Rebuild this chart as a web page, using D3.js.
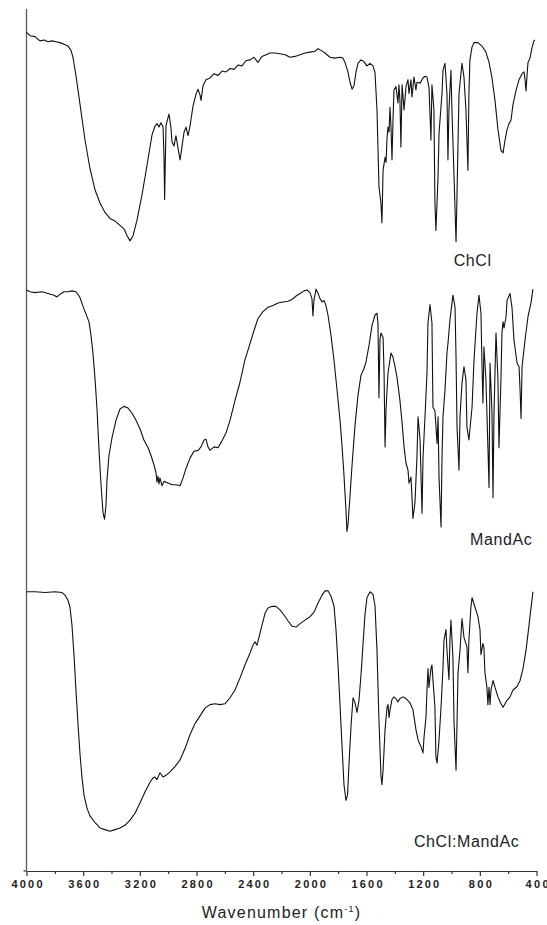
<!DOCTYPE html>
<html>
<head>
<meta charset="utf-8">
<script src="https://cdn.jsdelivr.net/npm/d3@7"></script>
<style>
  html, body { margin: 0; padding: 0; background: #fff; }
  svg { display: block; }
  .tick text { font-family: "Liberation Sans", Arial, sans-serif; }
</style>
</head>
<body>
<svg id="chart" width="547" height="925"></svg>
<script>
// FTIR spectra, stacked: [wavenumber (cm-1), transmittance (a.u., offset)]
const chclSpectrum = [
  [4000,97.3],[3975,96.9],[3940,96.8],[3905,96.3],[3876,96.4],[3848,96.2],[3820,96.3],[3792,96.2],
  [3764,96.1],[3735,95.9],[3707,95.7],[3686,95.2],[3672,94.4],[3651,92.3],[3622,88.9],[3587,84.8],
  [3552,81.5],[3516,79.0],[3481,77.5],[3446,76.4],[3411,75.7],[3375,75.4],[3340,74.9],[3312,74.5],
  [3290,73.7],[3269,73.1],[3248,73.7],[3220,75.5],[3185,78.4],[3149,81.9],[3114,85.4],[3093,86.4],
  [3079,86.7],[3065,86.3],[3051,86.8],[3036,86.3],[3029,82.5],[3025,77.9],[3020,82.5],[3015,86.5],
  [3001,87.4],[2994,87.8],[2980,86.2],[2973,84.6],[2959,84.1],[2945,85.3],[2931,83.9],[2916,82.5],
  [2902,84.1],[2888,85.7],[2874,86.3],[2860,85.3],[2846,86.4],[2825,88.7],[2804,90.1],[2789,90.7],
  [2775,90.0],[2768,89.4],[2754,91.1],[2733,91.8],[2705,92.0],[2676,92.5],[2648,92.3],[2620,92.8],
  [2592,92.7],[2563,93.1],[2535,93.0],[2507,93.5],[2479,93.4],[2451,94.0],[2422,94.1],[2394,94.4],
  [2366,93.8],[2338,94.5],[2309,94.7],[2282,94.9],[2246,94.9],[2211,94.8],[2175,94.7],[2140,94.4],
  [2105,94.5],[2069,94.7],[2034,94.9],[1999,95.0],[1964,95.1],[1942,95.4],[1921,95.2],[1893,94.9],
  [1858,94.4],[1822,94.3],[1787,94.4],[1766,94.3],[1752,93.8],[1731,92.7],[1716,91.5],[1702,90.7],
  [1688,91.1],[1674,92.7],[1660,93.7],[1639,94.1],[1618,93.9],[1597,93.4],[1575,93.7],[1554,93.4],
  [1540,92.6],[1526,88.3],[1512,79.4],[1498,77.5],[1491,75.2],[1483,81.3],[1469,82.8],[1462,82.2],
  [1455,85.1],[1448,86.3],[1441,85.7],[1434,88.6],[1427,86.3],[1420,82.5],[1413,87.1],[1406,90.6],
  [1392,91.0],[1378,89.1],[1371,91.2],[1364,89.4],[1357,84.0],[1349,91.2],[1335,88.3],[1321,91.0],
  [1307,91.8],[1300,90.2],[1286,91.8],[1279,89.8],[1265,92.1],[1251,90.6],[1244,91.5],[1222,91.4],
  [1201,92.0],[1187,92.2],[1173,92.1],[1159,90.9],[1145,84.8],[1138,91.2],[1124,88.3],[1117,77.5],
  [1110,74.3],[1095,80.5],[1088,85.6],[1067,90.2],[1060,92.9],[1046,93.7],[1032,90.2],[1025,82.5],
  [1018,88.3],[1004,92.9],[997,88.3],[982,80.5],[968,73.0],[961,78.6],[947,90.2],[926,93.7],
  [912,92.1],[898,88.3],[884,81.3],[877,90.2],[870,94.1],[855,95.6],[841,96.1],[813,96.1],
  [785,95.7],[757,95.0],[735,93.8],[714,92.0],[693,89.4],[672,86.0],[651,83.6],[636,83.3],
  [622,84.8],[608,86.0],[594,86.7],[580,87.1],[566,88.9],[544,90.6],[523,91.8],[502,92.5],
  [488,92.7],[481,91.8],[474,90.5],[467,92.3],[460,93.8],[446,94.3],[432,95.5],[418,96.3],[411,96.4]
];

const mandAcSpectrum = [
  [4000,67.4],[3975,67.2],[3940,67.1],[3891,67.2],[3848,67.0],[3806,66.8],[3785,66.6],[3764,66.9],
  [3735,67.2],[3707,67.2],[3679,67.3],[3651,67.2],[3636,66.9],[3622,66.5],[3601,65.5],[3580,64.6],
  [3559,63.7],[3545,62.2],[3530,59.9],[3516,57.0],[3502,53.5],[3488,48.8],[3474,44.8],[3460,41.6],
  [3449,40.8],[3439,42.4],[3432,45.3],[3418,48.2],[3396,50.3],[3368,52.3],[3340,53.6],[3312,53.9],
  [3283,53.7],[3255,53.1],[3227,52.3],[3199,51.3],[3171,50.0],[3142,49.1],[3121,48.2],[3100,47.1],
  [3086,46.2],[3079,45.1],[3072,45.8],[3065,44.9],[3058,45.6],[3044,44.7],[3029,45.2],[3001,45.0],
  [2973,44.8],[2945,44.8],[2916,44.7],[2895,45.6],[2874,46.7],[2846,47.9],[2818,48.7],[2789,48.8],
  [2768,49.2],[2747,50.0],[2733,50.1],[2719,49.2],[2705,48.8],[2676,49.2],[2648,49.1],[2620,49.9],
  [2592,50.8],[2563,52.3],[2528,54.6],[2493,56.7],[2458,59.3],[2422,61.2],[2394,62.7],[2366,64.1],
  [2331,64.9],[2295,65.4],[2260,65.6],[2225,65.9],[2189,66.0],[2154,66.1],[2126,66.3],[2097,66.7],
  [2069,67.0],[2041,67.3],[2020,67.4],[1999,67.1],[1985,66.4],[1978,64.4],[1971,66.2],[1956,67.5],
  [1942,67.0],[1928,66.4],[1914,66.0],[1900,66.2],[1886,65.6],[1872,64.5],[1851,62.2],[1829,59.2],
  [1808,55.8],[1787,52.3],[1773,49.4],[1759,45.9],[1745,41.9],[1738,39.4],[1731,40.1],[1716,43.6],
  [1702,47.1],[1681,51.7],[1660,55.2],[1639,57.5],[1618,58.3],[1604,59.0],[1582,61.0],[1561,63.3],
  [1540,64.5],[1526,64.7],[1519,63.6],[1512,54.9],[1505,61.6],[1498,62.4],[1483,61.9],[1476,57.8],
  [1469,49.2],[1462,53.5],[1455,55.8],[1448,57.8],[1427,60.1],[1413,59.6],[1399,58.5],[1385,57.3],
  [1364,54.6],[1349,52.0],[1335,49.2],[1321,47.3],[1307,46.5],[1300,45.0],[1286,45.7],[1279,43.4],
  [1272,40.9],[1258,42.7],[1244,48.0],[1236,52.7],[1222,50.0],[1208,41.5],[1201,48.0],[1187,52.7],
  [1173,57.8],[1166,63.6],[1152,65.7],[1138,63.6],[1131,53.8],[1117,53.4],[1102,49.6],[1095,52.7],
  [1088,45.7],[1074,39.9],[1067,48.0],[1060,52.7],[1046,55.8],[1032,60.1],[1025,61.2],[1011,63.9],
  [990,66.8],[975,65.4],[968,59.6],[961,51.5],[947,46.5],[940,52.7],[926,56.6],[912,58.5],
  [898,57.0],[891,51.5],[877,50.0],[855,53.8],[841,59.3],[820,64.7],[806,66.8],[792,64.7],
  [785,58.9],[778,54.3],[771,60.8],[757,57.0],[743,49.2],[735,44.5],[728,58.9],[714,53.1],
  [707,43.3],[700,53.1],[686,62.4],[672,57.0],[665,49.1],[651,57.0],[644,62.4],[636,63.7],
  [629,63.0],[615,64.3],[608,66.2],[587,67.0],[573,65.4],[559,61.6],[537,58.9],[523,58.5],
  [516,55.8],[509,52.5],[502,58.5],[481,61.6],[460,64.3],[439,65.9],[425,67.5]
];

const blendSpectrum = [
  [4000,32.4],[3940,32.4],[3869,32.3],[3799,32.4],[3749,32.3],[3728,32.0],[3707,31.4],[3693,30.6],
  [3679,28.5],[3665,25.1],[3651,21.0],[3636,16.9],[3622,13.5],[3608,10.8],[3594,8.8],[3573,7.3],
  [3552,6.4],[3516,5.6],[3481,5.0],[3446,4.8],[3411,4.6],[3375,4.8],[3340,5.0],[3305,5.3],
  [3269,5.9],[3234,6.7],[3199,7.9],[3163,9.2],[3128,10.3],[3107,10.8],[3093,10.9],[3079,10.6],
  [3058,11.4],[3036,10.9],[3015,11.1],[2987,11.5],[2952,12.1],[2916,12.9],[2881,14.2],[2846,15.8],
  [2811,17.1],[2775,18.0],[2740,18.9],[2705,19.3],[2669,19.4],[2634,19.3],[2599,19.4],[2563,20.1],
  [2528,21.0],[2493,22.4],[2458,23.9],[2422,25.3],[2401,26.2],[2387,26.6],[2373,26.2],[2359,27.1],
  [2338,28.5],[2316,29.9],[2295,30.5],[2267,30.7],[2239,30.7],[2211,30.3],[2182,29.7],[2154,29.0],
  [2126,28.4],[2097,28.3],[2069,28.7],[2034,29.1],[1999,29.5],[1971,30.0],[1942,31.1],[1914,32.0],
  [1893,32.5],[1872,32.5],[1851,31.9],[1829,30.7],[1815,27.9],[1801,23.9],[1787,19.3],[1773,14.6],
  [1759,10.0],[1745,8.2],[1734,8.8],[1724,12.3],[1709,16.9],[1695,20.1],[1681,19.5],[1667,18.4],
  [1653,19.8],[1639,22.7],[1625,26.2],[1611,29.7],[1597,31.7],[1575,32.4],[1554,32.1],[1540,30.8],
  [1526,25.6],[1512,17.5],[1498,11.1],[1491,10.0],[1483,11.7],[1469,16.4],[1455,19.0],[1448,19.3],
  [1441,17.8],[1434,18.7],[1420,19.9],[1406,20.2],[1392,20.0],[1378,19.6],[1364,20.0],[1342,20.2],
  [1321,20.0],[1293,19.5],[1272,18.7],[1251,16.4],[1236,15.2],[1215,14.4],[1201,13.7],[1194,15.5],
  [1180,17.9],[1173,21.0],[1166,23.5],[1159,21.3],[1145,23.5],[1138,23.9],[1131,22.2],[1117,19.0],
  [1110,13.2],[1102,12.5],[1088,15.2],[1074,19.0],[1060,23.6],[1053,26.8],[1039,28.0],[1032,25.6],
  [1018,22.2],[1011,26.8],[1004,29.1],[990,24.8],[982,17.2],[968,11.7],[961,17.2],[954,23.0],
  [940,25.6],[926,29.3],[912,27.1],[891,26.0],[884,23.0],[877,26.8],[863,30.6],[855,31.7],
  [834,30.6],[813,29.5],[799,28.0],[792,25.1],[778,26.4],[771,25.9],[764,23.0],[750,21.3],
  [743,19.3],[735,21.3],[728,19.3],[721,21.0],[707,22.1],[693,21.3],[672,20.2],[651,19.4],
  [636,19.0],[608,19.8],[587,20.2],[566,21.0],[537,21.4],[516,22.1],[495,23.5],[474,25.6],
  [453,28.5],[439,30.5],[425,32.4]
];

const seriesNames = ["ChCl", "MandAc", "ChCl:MandAc"];
// label anchor per series: [wavenumber, transmittance]
const labelAnchors = [[985, 70.2], [869, 37.8], [1265, 2.8]];
const majorTicks = [4000, 3600, 3200, 2800, 2400, 2000, 1600, 1200, 800, 400];
const minorTicks = [3800, 3400, 3000, 2600, 2200, 1800, 1400, 1000, 600];

const svg = d3.select("#chart");
const x = d3.scaleLinear().domain([4000, 400]).range([26.5, 536.5]);
const y = d3.scaleLinear().domain([0, 100]).range([871, 9]);

const fontFamily = "'Liberation Sans', Arial, Helvetica, sans-serif";

// left frame line
svg.append("line")
  .attr("x1", x(4000)).attr("x2", x(4000))
  .attr("y1", y(100)).attr("y2", y(0))
  .attr("stroke", "#5a5a5a").attr("stroke-width", 1.3);

// bottom axis with major and minor ticks
const axisMajor = d3.axisBottom(x).tickValues(majorTicks).tickSize(5).tickSizeOuter(0)
  .tickPadding(4).tickFormat(d3.format("d"));
const gMajor = svg.append("g").attr("transform", `translate(0,${y(0)})`).call(axisMajor);
gMajor.select(".domain").attr("stroke", "#333").attr("stroke-width", 1.2);
gMajor.selectAll(".tick line").attr("stroke", "#333").attr("stroke-width", 1.2);
gMajor.selectAll(".tick text")
  .attr("fill", "#222")
  .style("font-family", fontFamily)
  .style("font-size", "11px")
  .style("font-weight", "bold")
  .attr("textLength", d => d >= 1000 ? 31 : 23)
  .attr("lengthAdjust", "spacing");

const axisMinor = d3.axisBottom(x).tickValues(minorTicks).tickSize(3).tickSizeOuter(0).tickFormat("");
const gMinor = svg.append("g").attr("transform", `translate(0,${y(0)})`).call(axisMinor);
gMinor.select(".domain").remove();
gMinor.selectAll(".tick line").attr("stroke", "#333").attr("stroke-width", 1.2);

// short overhang of the baseline to the left of the frame
svg.append("line")
  .attr("x1", x(4000) - 3).attr("x2", x(4000))
  .attr("y1", y(0)).attr("y2", y(0))
  .attr("stroke", "#333").attr("stroke-width", 1.2);

// axis title
const title = svg.append("text")
  .attr("x", (x(4000) + x(400)) / 2)
  .attr("y", 918)
  .attr("text-anchor", "middle")
  .attr("fill", "#222")
  .style("font-family", fontFamily)
  .style("font-size", "16px")
  .style("letter-spacing", "1.2px");
title.append("tspan").text("Wavenumber (cm");
title.append("tspan").attr("dy", -6).style("font-size", "9px").text("-1");
title.append("tspan").attr("dy", 6).text(")");

// spectra
const line = d3.line()
  .x(d => x(d[0]))
  .y(d => y(d[1]));

[chclSpectrum, mandAcSpectrum, blendSpectrum].forEach(s => {
  svg.append("path")
    .datum(s)
    .attr("d", line)
    .attr("fill", "none")
    .attr("stroke", "#111")
    .attr("stroke-width", 1.1)
    .attr("stroke-linejoin", "round");
});

// series labels
svg.selectAll("text.series-label")
  .data(seriesNames)
  .join("text")
  .attr("class", "series-label")
  .attr("x", (d, i) => x(labelAnchors[i][0]))
  .attr("y", (d, i) => y(labelAnchors[i][1]))
  .attr("fill", "#1c1c28")
  .style("font-family", fontFamily)
  .style("font-size", "16px")
  .style("letter-spacing", "0.6px")
  .text(d => d);
</script>
</body>
</html>
